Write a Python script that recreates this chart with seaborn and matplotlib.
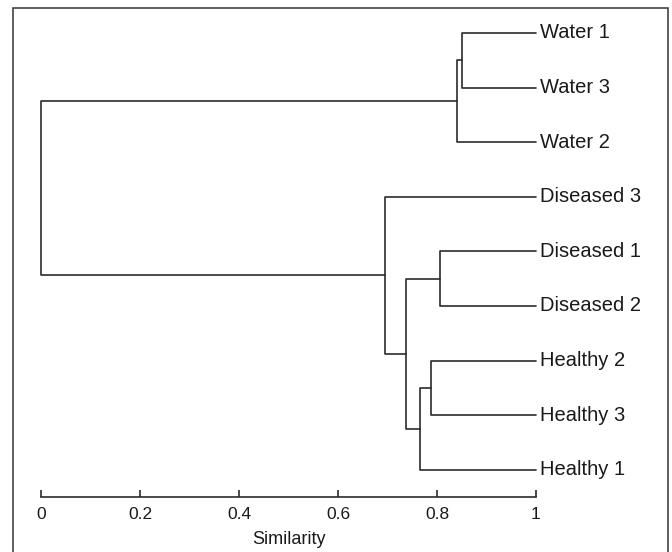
import matplotlib
matplotlib.use("Agg")
import matplotlib.pyplot as plt
from matplotlib.patches import Rectangle
import numpy as np
import pandas as pd
import seaborn as sns

# ---- data ----
leaves = ["Water 1", "Water 3", "Water 2", "Diseased 3", "Diseased 1",
          "Diseased 2", "Healthy 2", "Healthy 3", "Healthy 1"]
# merges (scipy-like: index < n is a leaf, index >= n is earlier merge)
merge_left = [0, 9, 4, 6, 12, 11, 3, 10]
merge_right = [1, 2, 5, 7, 8, 13, 14, 15]
merge_similarity = [0.851, 0.840, 0.807, 0.787, 0.766, 0.737, 0.694, 0.0]
x_ticks = [0, 0.2, 0.4, 0.6, 0.8, 1]
x_ticklabels = ["0", "0.2", "0.4", "0.6", "0.8", "1"]
x_label = "Similarity"

sns.set_style("white")
plt.rcParams['font.family'] = ['Liberation Sans', 'DejaVu Sans']

n = len(leaves)
node_y = {i: float(i) for i in range(n)}
node_h = {i: 1.0 for i in range(n)}
rows = []
for k, (a, b, h) in enumerate(zip(merge_left, merge_right, merge_similarity)):
    idx = n + k
    pts = [(node_h[a], node_y[a]), (h, node_y[a]), (h, node_y[b]), (node_h[b], node_y[b])]
    for px, py in pts:
        rows.append({"x": px, "y": py, "link": k})
    node_y[idx] = (node_y[a] + node_y[b]) / 2
    node_h[idx] = h
df = pd.DataFrame(rows)

fig = plt.figure(figsize=(6.72, 5.52), dpi=100)
ax = fig.add_axes([41/672, 1 - 497/552, (536 - 41)/672, (497 - 5.7)/552])
line_color = "#2b2b2b"
text_color = "#1a1a1a"
sns.lineplot(data=df, x="x", y="y", units="link", estimator=None, sort=False,
             color=line_color, lw=1.2, ax=ax, legend=False)
for line in ax.lines:
    line.set_clip_on(False)

ax.set_xlim(0, 1)
ax.set_ylim(n - 0.5, -0.5)
ax.set_yticks([])
ax.set_xticks(x_ticks)
ax.set_xticklabels(x_ticklabels, fontsize=12.5, color=text_color)
ax.tick_params(axis="x", bottom=True, direction="in", length=5, width=1.2,
               color=line_color, pad=7)
ax.set_xlabel(x_label, fontsize=13, color=text_color, labelpad=7)
ax.set_ylabel("")
for s in ["top", "right", "left"]:
    ax.spines[s].set_visible(False)
ax.spines["bottom"].set_color(line_color)
ax.spines["bottom"].set_linewidth(1.2)

for i, name in enumerate(leaves):
    ax.text(1.008, i, name, fontsize=14.5, va="center", ha="left",
            color=text_color, clip_on=False)

fig.patches.append(Rectangle((13/672, -0.05), (668 - 13)/672, 1.05 - 8/552,
                             transform=fig.transFigure, fill=False,
                             edgecolor="#333333", lw=1.1))

fig.savefig("out.png", dpi=100)
